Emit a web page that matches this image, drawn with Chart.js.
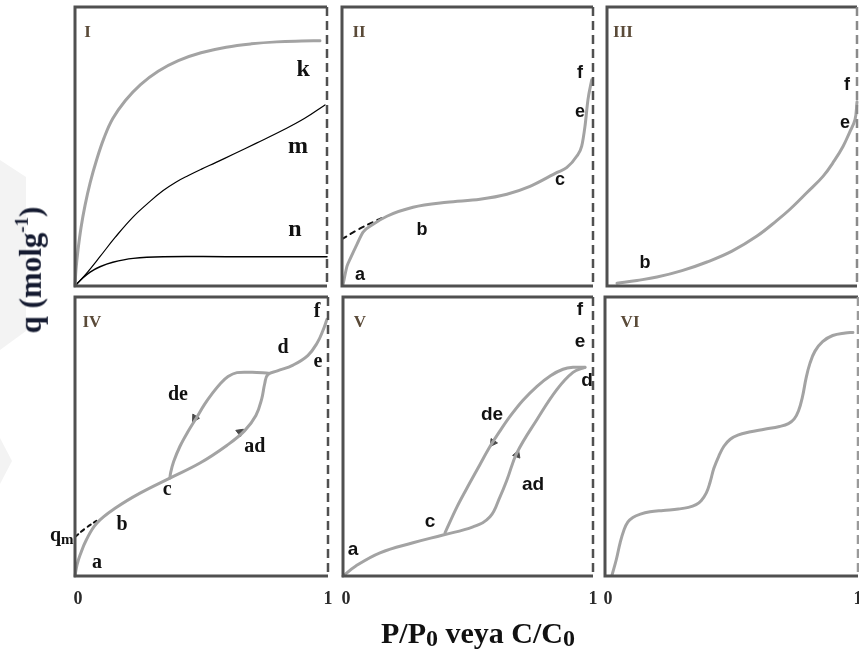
<!DOCTYPE html>
<html>
<head>
<meta charset="utf-8">
<script src="https://cdn.jsdelivr.net/npm/chart.js@4.4.1/dist/chart.umd.min.js"></script>
<style>
  html, body { margin: 0; padding: 0; background: #fff; overflow: hidden; width: 859px; height: 657px; }
  #wrap { position: relative; width: 859px; height: 657px; }
  #wrap canvas { position: absolute; }
  .shade { position: absolute; left: 0; width: 26px; background: #f3f3f3; }
  #shade1 { top: 160px; height: 190px; clip-path: polygon(0 0, 100% 9%, 100% 90%, 0 100%); }
  #shade2 { top: 438px; height: 46px; width: 12px; clip-path: polygon(0 0, 100% 50%, 0 100%); }
  .axis-title { position: absolute; font-family: "Liberation Serif", "DejaVu Serif", serif; font-weight: bold; white-space: nowrap; color: #111; }
  #ytitle { left: 31px; top: 270px; font-size: 31px; transform: translate(-50%, -50%) rotate(-90deg); color: #141a30; }
  #ytitle sup { font-size: 19px; position: relative; top: -2px; }
  #xtitle { left: 478px; top: 634px; font-size: 30px; transform: translate(-50%, -50%); }
  #xtitle sub { font-size: 24px; vertical-align: -3px; }
</style>
</head>
<body>
<div id="wrap">
  <div id="shade1" class="shade"></div>
  <div id="shade2" class="shade"></div>
  <canvas id="c1"></canvas>
  <canvas id="c2"></canvas>
  <canvas id="c3"></canvas>
  <canvas id="c4"></canvas>
  <canvas id="c5"></canvas>
  <canvas id="c6"></canvas>
  <div id="ytitle" class="axis-title">q (molg<sup>-1</sup>)</div>
  <div id="xtitle" class="axis-title">P/P<sub>0</sub> veya C/C<sub>0</sub></div>
</div>
<script>
// ---- relative pressure (x) vs. amount adsorbed (y), both scaled 0..1 ----
const xTicks = [0, 1];

// Type I: three Langmuir-like curves
const typeI_k = [[0,0],[0.004,0.06],[0.012,0.13],[0.024,0.21],[0.04,0.29],[0.06,0.37],[0.085,0.45],[0.115,0.53],[0.15,0.6],[0.2,0.665],[0.26,0.722],[0.33,0.77],[0.41,0.808],[0.5,0.836],[0.6,0.856],[0.7,0.868],[0.8,0.875],[0.9,0.878],[0.972,0.879]];
const typeI_m = [[0,0],[0.05,0.05],[0.099,0.105],[0.16,0.175],[0.231,0.248],[0.3,0.305],[0.35,0.342],[0.4,0.372],[0.45,0.396],[0.5,0.418],[0.56,0.443],[0.628,0.472],[0.72,0.512],[0.826,0.559],[0.91,0.6],[0.992,0.649]];
const typeI_n = [[0,0],[0.03,0.028],[0.06,0.05],[0.099,0.069],[0.15,0.085],[0.231,0.099],[0.35,0.105],[0.6,0.105],[1,0.105]];

// Type II
const typeII = [[0.004,0.005],[0.02,0.071],[0.032,0.096],[0.06,0.15],[0.084,0.193],[0.124,0.221],[0.179,0.25],[0.283,0.282],[0.418,0.3],[0.55,0.311],[0.657,0.329],[0.749,0.357],[0.857,0.407],[0.895,0.424],[0.935,0.465],[0.955,0.501],[0.968,0.572],[0.98,0.668],[0.995,0.739]];
const typeII_knee = [[0,0.168],[0.06,0.2],[0.13,0.232],[0.17,0.248]];

// Type III
const typeIII = [[0.04,0.01],[0.12,0.02],[0.2,0.032],[0.3,0.055],[0.4,0.086],[0.5,0.125],[0.6,0.179],[0.68,0.235],[0.732,0.275],[0.8,0.335],[0.864,0.393],[0.91,0.45],[0.944,0.5],[0.97,0.55],[0.992,0.596],[1.0,0.66]];

// Type IV: adsorption path and desorption branch
const typeIV_ad = [[0,0],[0.008,0.04],[0.02,0.075],[0.045,0.13],[0.087,0.19],[0.166,0.247],[0.257,0.297],[0.375,0.351],[0.494,0.405],[0.6,0.468],[0.67,0.52],[0.715,0.575],[0.738,0.635],[0.75,0.69],[0.762,0.722],[0.8,0.735],[0.862,0.756],[0.92,0.79],[0.957,0.835],[0.98,0.88],[0.996,0.92]];
const typeIV_de = [[0.765,0.727],[0.70,0.73],[0.64,0.729],[0.605,0.715],[0.575,0.69],[0.545,0.657],[0.512,0.615],[0.482,0.57],[0.445,0.515],[0.415,0.465],[0.39,0.41],[0.378,0.37],[0.375,0.351]];
const typeIV_knee = [[0,0.14],[0.04,0.17],[0.085,0.198]];

// Type V: adsorption path and desorption branch
const typeV_ad = [[0,0],[0.05,0.035],[0.148,0.083],[0.28,0.119],[0.4,0.147],[0.52,0.176],[0.588,0.212],[0.628,0.284],[0.656,0.345],[0.696,0.442],[0.776,0.561],[0.856,0.669],[0.92,0.73],[0.968,0.748]];
const typeV_de = [[0.968,0.748],[0.92,0.748],[0.88,0.741],[0.83,0.718],[0.776,0.68],[0.72,0.63],[0.668,0.572],[0.628,0.52],[0.588,0.464],[0.548,0.4],[0.508,0.335],[0.456,0.248],[0.408,0.155]];

// Type VI: stepwise multilayer
const typeVI = [[0.028,0.004],[0.045,0.06],[0.06,0.12],[0.075,0.165],[0.09,0.193],[0.11,0.21],[0.14,0.222],[0.178,0.23],[0.23,0.235],[0.29,0.24],[0.33,0.246],[0.36,0.256],[0.38,0.27],[0.40,0.297],[0.415,0.335],[0.43,0.385],[0.45,0.43],[0.47,0.465],[0.495,0.49],[0.525,0.505],[0.57,0.516],[0.63,0.526],[0.69,0.536],[0.725,0.546],[0.748,0.563],[0.765,0.592],[0.78,0.64],[0.795,0.71],[0.81,0.762],[0.83,0.806],[0.86,0.84],[0.9,0.862],[0.95,0.871],[0.98,0.873]];

// direction markers on the hysteresis branches: [x, y, heading in degrees]
const arrowsIV = [[0.474,0.566,212],[0.652,0.516,52]];
const arrowsV = [[0.6,0.478,214],[0.696,0.435,20]];

// ---- helpers ----
const pts = arr => arr.map(([x, y]) => ({ x, y }));
const GRAY = '#a3a3a3';
const SERIF = '"Liberation Serif", "DejaVu Serif", serif';
const SANS = '"Liberation Sans", Arial, sans-serif';

function curve(data, opts = {}) {
  return Object.assign({
    data: pts(data), showLine: true, pointRadius: 0, borderColor: GRAY, borderWidth: 3,
    tension: 0.4, fill: false, clip: 6, borderCapStyle: 'round', borderJoinStyle: 'round'
  }, opts);
}
function arrows(list) {
  return {
    data: list.map(([x, y]) => ({ x, y })), showLine: false, pointStyle: 'triangle',
    pointRadius: 4.5, rotation: list.map(a => a[2]), backgroundColor: '#4a4a4a', borderColor: '#4a4a4a', borderWidth: 1
  };
}

// frame, panel letters and 0/1 ticks
const panelFrame = {
  id: 'panelFrame',
  afterDatasetsDraw(chart, args, o) {
    const { ctx, chartArea: a, scales: { x, y } } = chart;
    ctx.save();
    ctx.strokeStyle = '#505050';
    ctx.lineWidth = 3;
    ctx.beginPath();
    ctx.moveTo(a.right, a.top); ctx.lineTo(a.left, a.top);
    ctx.lineTo(a.left, a.bottom); ctx.lineTo(a.right, a.bottom);
    ctx.stroke();
    ctx.setLineDash([9, 5]);
    ctx.strokeStyle = o.edge || '#505050';
    ctx.lineWidth = 2.5;
    ctx.beginPath(); ctx.moveTo(a.right, a.top); ctx.lineTo(a.right, a.bottom); ctx.stroke();
    ctx.setLineDash([]);

    ctx.textAlign = 'center';
    ctx.textBaseline = 'middle';
    // panel numeral
    ctx.fillStyle = '#5a4a38';
    ctx.font = 'bold 17px ' + SERIF;
    ctx.fillText(o.numeral[0], x.getPixelForValue(o.numeral[1]), y.getPixelForValue(o.numeral[2]));
    // point letters
    ctx.fillStyle = '#111';
    ctx.font = o.font;
    for (const n of o.notes) {
      const px = x.getPixelForValue(n[1]), py = y.getPixelForValue(n[2]);
      if (n[3]) {
        ctx.textAlign = 'right';
        ctx.fillText(n[0], px, py);
        ctx.font = 'bold 15px ' + SERIF;
        ctx.textAlign = 'left';
        ctx.fillText(n[3], px, py + 5);
        ctx.font = o.font;
        ctx.textAlign = 'center';
      } else {
        ctx.fillText(n[0], px, py);
      }
    }
    // axis numbers under the bottom row
    if (o.ticks) {
      ctx.fillStyle = '#2b2b2b';
      ctx.font = 'bold 18px ' + SERIF;
      for (const v of xTicks) {
        ctx.fillText(String(v), x.getPixelForValue(v) + (v === 0 ? 3 : 0), a.bottom + 23);
      }
    }
    ctx.restore();
  }
};

const panels = [
  { id: 'c1', L: 75, T: 7, R: 327, B: 286, pad: { l: 8, t: 6, r: 8, b: 6 },
    datasets: [curve(typeI_k), curve(typeI_m, { borderColor: '#000', borderWidth: 1.2 }), curve(typeI_n, { borderColor: '#000', borderWidth: 1.5 })],
    frame: { numeral: ['I', 0.05, 0.907], font: 'bold 24px ' + SERIF,
      notes: [['k', 0.905, 0.774], ['m', 0.885, 0.498], ['n', 0.873, 0.2]] } },
  { id: 'c2', L: 342, T: 7, R: 593, B: 286, pad: { l: 8, t: 6, r: 8, b: 6 },
    datasets: [curve(typeII, { tension: 0, cubicInterpolationMode: 'monotone' }), curve(typeII_knee, { borderColor: '#111', borderWidth: 2, borderDash: [5, 5] })],
    frame: { numeral: ['II', 0.068, 0.907], font: 'bold 18px ' + SANS,
      notes: [['f', 0.948, 0.763], ['e', 0.948, 0.624], ['c', 0.869, 0.38], ['b', 0.319, 0.2], ['a', 0.072, 0.039]] } },
  { id: 'c3', L: 607, T: 7, R: 857, B: 286, pad: { l: 8, t: 6, r: 8, b: 6 },
    datasets: [curve(typeIII)],
    frame: { numeral: ['III', 0.064, 0.907], font: 'bold 18px ' + SANS, edge: '#8a8a8a',
      notes: [['f', 0.96, 0.72], ['e', 0.952, 0.584], ['b', 0.152, 0.082]] } },
  { id: 'c4', L: 75, T: 297, R: 328, B: 576, pad: { l: 45, t: 6, r: 8, b: 40 },
    datasets: [curve(typeIV_ad), curve(typeIV_de, { tension: 0.35 }),
      curve(typeIV_knee, { borderColor: '#111', borderWidth: 2, borderDash: [4, 4] }), arrows(arrowsIV)],
    frame: { numeral: ['IV', 0.067, 0.907], font: 'bold 20px ' + SERIF, ticks: true,
      notes: [['f', 0.957, 0.946], ['d', 0.822, 0.817], ['e', 0.96, 0.767], ['de', 0.407, 0.649], ['ad', 0.711, 0.462],
              ['c', 0.364, 0.308], ['b', 0.186, 0.183], ['q', -0.055, 0.145, 'm'], ['a', 0.087, 0.047]] } },
  { id: 'c5', L: 343, T: 297, R: 593, B: 576, pad: { l: 8, t: 6, r: 8, b: 40 },
    datasets: [curve(typeV_ad), curve(typeV_de, { tension: 0.35 }), arrows(arrowsV)],
    frame: { numeral: ['V', 0.068, 0.91], font: 'bold 19px ' + SANS, ticks: true,
      notes: [['f', 0.948, 0.953], ['e', 0.948, 0.838], ['d', 0.976, 0.698], ['de', 0.596, 0.579], ['ad', 0.76, 0.327],
              ['c', 0.348, 0.194], ['a', 0.04, 0.094]] } },
  { id: 'c6', L: 605, T: 297, R: 858, B: 576, pad: { l: 8, t: 6, r: 8, b: 40 },
    datasets: [curve(typeVI)],
    frame: { numeral: ['VI', 0.099, 0.91], font: 'bold 18px ' + SANS, ticks: true, edge: '#9a9a9a', notes: [] } }
];

for (const p of panels) {
  const cv = document.getElementById(p.id);
  const w = p.R - p.L + p.pad.l + p.pad.r;
  const h = p.B - p.T + p.pad.t + p.pad.b;
  cv.width = w; cv.height = h;
  cv.style.width = w + 'px'; cv.style.height = h + 'px';
  cv.style.left = (p.L - p.pad.l) + 'px';
  cv.style.top = (p.T - p.pad.t) + 'px';
  new Chart(cv, {
    type: 'scatter',
    data: { datasets: p.datasets },
    options: {
      responsive: false, animation: false, devicePixelRatio: 1, events: [],
      layout: { padding: { left: p.pad.l, top: p.pad.t, right: p.pad.r, bottom: p.pad.b } },
      scales: {
        x: { type: 'linear', min: 0, max: 1, display: false },
        y: { type: 'linear', min: 0, max: 1, display: false }
      },
      plugins: { legend: { display: false }, tooltip: { enabled: false }, panelFrame: p.frame }
    },
    plugins: [panelFrame]
  });
}
</script>
</body>
</html>
